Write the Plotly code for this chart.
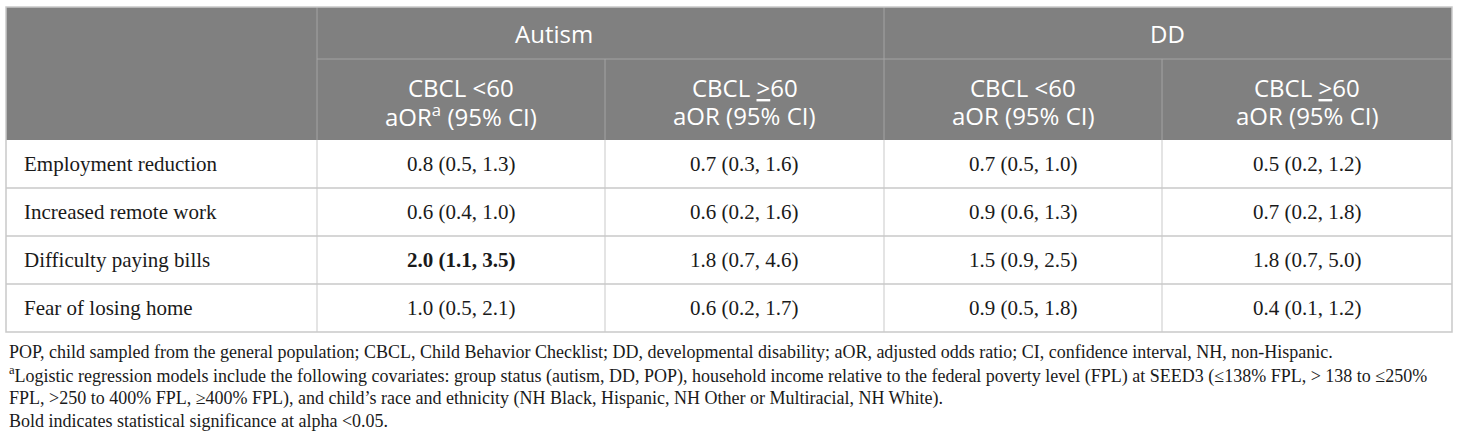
import plotly.graph_objects as go

# table content
outcomes = [
    "Employment reduction",
    "Increased remote work",
    "Difficulty paying bills",
    "Fear of losing home",
]
groups = ["Autism", "DD"]
subheads = [
    ["CBCL <60", "aOR<sup>a</sup> (95% CI)"],
    ["CBCL <u>></u>60", "aOR (95% CI)"],
    ["CBCL <60", "aOR (95% CI)"],
    ["CBCL <u>></u>60", "aOR (95% CI)"],
]
autism_lt60 = ["0.8 (0.5, 1.3)", "0.6 (0.4, 1.0)", "2.0 (1.1, 3.5)", "1.0 (0.5, 2.1)"]
autism_ge60 = ["0.7 (0.3, 1.6)", "0.6 (0.2, 1.6)", "1.8 (0.7, 4.6)", "0.6 (0.2, 1.7)"]
dd_lt60 = ["0.7 (0.5, 1.0)", "0.9 (0.6, 1.3)", "1.5 (0.9, 2.5)", "0.9 (0.5, 1.8)"]
dd_ge60 = ["0.5 (0.2, 1.2)", "0.7 (0.2, 1.8)", "1.8 (0.7, 5.0)", "0.4 (0.1, 1.2)"]
significant = [(2, 0)]  # (row, value column) shown in bold

footnotes = [
    "POP, child sampled from the general population; CBCL, Child Behavior Checklist; DD, developmental disability; "
    "aOR, adjusted odds ratio; CI, confidence interval, NH, non-Hispanic.",
    "<sup>a</sup>Logistic regression models include the following covariates: group status (autism, DD, POP), household "
    "income relative to the federal poverty level (FPL) at SEED3 (≤138% FPL, > 138 to ≤250%",
    "FPL, >250 to 400% FPL, ≥400% FPL), and child’s race and ethnicity (NH Black, Hispanic, NH Other or Multiracial, NH White).",
    "Bold indicates statistical significance at alpha <0.05.",
]

values = [autism_lt60, autism_ge60, dd_lt60, dd_ge60]

# geometry, in pixels
col_edges = [6, 317, 605, 884, 1162, 1452]
top, head_mid, head_bot, row_h = 7, 59, 140, 48
group_x = [554, 1167]

HEAD_FILL = "#808080"
HEAD_LINE = "#a3a3a3"
BODY_LINE = "#c9c9c9"
TEXT = "#1a1a1a"
SANS = "Open Sans"
SERIF = "Liberation Serif"

fig = go.Figure()
shapes = []
annotations = []

table_bot = head_bot + row_h * len(outcomes)

# header background
shapes.append(dict(type="rect", x0=col_edges[0], x1=col_edges[-1], y0=top, y1=head_bot,
                   fillcolor=HEAD_FILL, line=dict(width=0), layer="below"))
# header inner lines
shapes.append(dict(type="line", x0=col_edges[1], x1=col_edges[-1], y0=head_mid, y1=head_mid,
                   line=dict(color=HEAD_LINE, width=1)))
for i in [1, 3]:
    shapes.append(dict(type="line", x0=col_edges[i], x1=col_edges[i], y0=top, y1=head_bot,
                       line=dict(color=HEAD_LINE, width=1)))
for i in [2, 4]:
    shapes.append(dict(type="line", x0=col_edges[i], x1=col_edges[i], y0=head_mid, y1=head_bot,
                       line=dict(color=HEAD_LINE, width=1)))

# body lines
for r in range(1, len(outcomes)):
    y = head_bot + r * row_h
    shapes.append(dict(type="line", x0=col_edges[0], x1=col_edges[-1], y0=y, y1=y,
                       line=dict(color=BODY_LINE, width=1.5)))
for i in range(1, len(col_edges) - 1):
    shapes.append(dict(type="line", x0=col_edges[i], x1=col_edges[i], y0=head_bot, y1=table_bot,
                       line=dict(color=BODY_LINE, width=1)))
# outer border
shapes.append(dict(type="rect", x0=col_edges[0], x1=col_edges[-1], y0=top, y1=table_bot,
                   line=dict(color=BODY_LINE, width=1.5), fillcolor="rgba(0,0,0,0)"))

# header text
for g, name in enumerate(groups):
    annotations.append(dict(x=group_x[g], y=(top + head_mid) / 2, text=name, showarrow=False,
                            font=dict(family=SANS, size=24, color="white"),
                            xanchor="center", yanchor="middle"))
for c, lines in enumerate(subheads):
    xc = (col_edges[c + 1] + col_edges[c + 2]) / 2
    for k, line in enumerate(lines):
        annotations.append(dict(x=xc, y=87 + 28 * k, text=line, showarrow=False,
                                font=dict(family=SANS, size=24, color="white"),
                                xanchor="center", yanchor="middle"))

# body text
for r, label in enumerate(outcomes):
    yc = head_bot + r * row_h + row_h / 2
    annotations.append(dict(x=col_edges[0] + 16, y=yc, text=label, showarrow=False,
                            font=dict(family=SERIF, size=21, color=TEXT),
                            xanchor="left", yanchor="middle"))
    for c, col in enumerate(values):
        txt = col[r]
        if (r, c) in significant:
            txt = "<b>" + txt + "</b>"
        xc = (col_edges[c + 1] + col_edges[c + 2]) / 2
        annotations.append(dict(x=xc, y=yc, text=txt, showarrow=False,
                                font=dict(family=SERIF, size=21, color=TEXT),
                                xanchor="center", yanchor="middle"))

# footnotes
for k, note in enumerate(footnotes):
    annotations.append(dict(x=7, y=352 + 23 * k, text=note, showarrow=False,
                            font=dict(family=SERIF, size=18, color=TEXT),
                            xanchor="left", yanchor="middle"))

fig.update_layout(
    width=1460,
    height=445,
    margin=dict(l=0, r=0, t=0, b=0),
    paper_bgcolor="white",
    plot_bgcolor="white",
    shapes=shapes,
    annotations=annotations,
    showlegend=False,
)
fig.update_xaxes(range=[0, 1460], visible=False, fixedrange=True)
fig.update_yaxes(range=[445, 0], visible=False, fixedrange=True)

# drop the default page margin so the figure sits flush in the window
fig.write_html(
    "out.html",
    config=dict(displayModeBar=False),
    post_script="document.body.style.margin = '0';",
)
